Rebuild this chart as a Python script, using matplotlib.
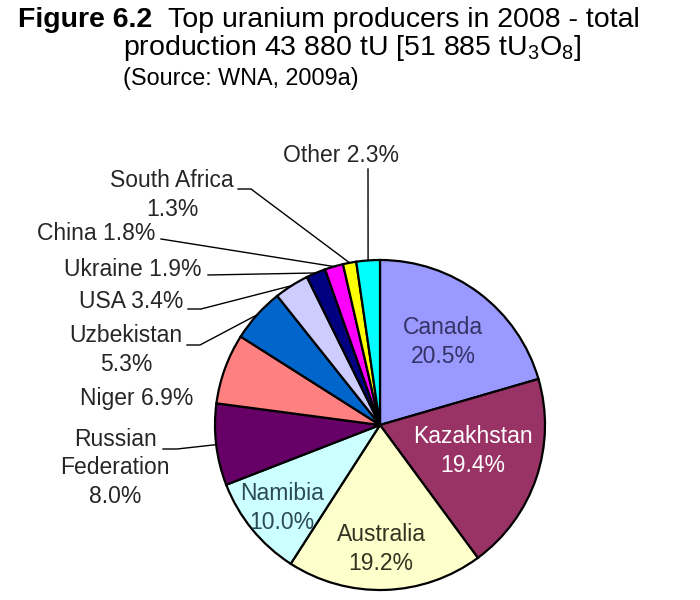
import numpy as np
import matplotlib.pyplot as plt

plt.rcParams['font.family'] = ['Liberation Sans', 'DejaVu Sans']
plt.rcParams['mathtext.fontset'] = 'custom'
plt.rcParams['mathtext.rm'] = 'Liberation Sans'
plt.rcParams['mathtext.it'] = 'Liberation Sans:italic'

# data (clockwise from 12 o'clock)
countries = ['Canada', 'Kazakhstan', 'Australia', 'Namibia', 'Russian Federation',
             'Niger', 'Uzbekistan', 'USA', 'Ukraine', 'China', 'South Africa', 'Other']
shares = [20.5, 19.4, 19.2, 10.0, 8.0, 6.9, 5.3, 3.4, 1.9, 1.8, 1.3, 2.3]
colors = ['#9999ff', '#993366', '#ffffcc', '#ccffff', '#660066', '#ff8080',
          '#0066cc', '#ccccff', '#000080', '#ff00ff', '#ffff00', '#00ffff']

H = 600  # figure height in px, used to flip y


def Y(py):
    return H - py


fig = plt.figure(figsize=(7, 6), dpi=100)
ax = fig.add_axes([0, 0, 1, 1])

cx, cy, r = 380, Y(425), 165
wedges, _ = ax.pie(shares, colors=colors, startangle=90, counterclock=False,
                   center=(cx, cy), radius=r,
                   wedgeprops=dict(edgecolor='black', linewidth=1.6))
ax.set_xlim(0, 700)
ax.set_ylim(0, 600)
ax.set_aspect('equal')
ax.axis('off')

fs = 16.5
ls = 1.32
txt = '#262626'

# labels inside the pie: (x, y, colour)
inside = {
    'Canada': (443, 342, '#333366'),
    'Kazakhstan': (473, 451, 'white'),
    'Australia': (381, 549, '#333322'),
    'Namibia': (282, 508, '#2b4a52'),
}

# labels outside: (x, y, name format, leader line points before the slice)
outside = {
    'Other': (341, 155, '{} {:.1f}%', [(368, 169)]),
    'South Africa': (172, 195, '{}\n{:.1f}%', [(238, 189), (251, 189)]),
    'China': (96, 234, '{} {:.1f}%', [(161, 239)]),
    'Ukraine': (133, 270, '{} {:.1f}%', [(208, 275)]),
    'USA': (131, 302, '{} {:.1f}%', [(188, 309), (201, 309)]),
    'Uzbekistan': (126, 350, '{}\n{:.1f}%', [(187, 345), (200, 345)]),
    'Niger': (137, 398, '{} {:.1f}%', None),
    'Russian Federation': (115, 468, '{}\n{:.1f}%', [(163, 449), (177, 449)]),
}

for w, name, val in zip(wedges, countries, shares):
    mid = np.deg2rad((w.theta1 + w.theta2) / 2)
    ex, ey = cx + r * np.cos(mid), cy + r * np.sin(mid)
    if name in inside:
        x, y, c = inside[name]
        ax.text(x, Y(y), f'{name}\n{val:.1f}%', ha='center', va='center',
                fontsize=fs, color=c, linespacing=ls)
    else:
        x, y, fmt, pts = outside[name]
        label = fmt.format(name.replace('Russian ', 'Russian\n'), val)
        ax.text(x, Y(y), label, ha='center', va='center', fontsize=fs,
                color=txt, linespacing=ls)
        if pts:
            xs = [p[0] for p in pts] + [ex]
            ys = [Y(p[1]) for p in pts] + [ey]
            ax.plot(xs, ys, color='black', lw=1.0)

# title block
fig.text(18 / 700, 1 - 27 / 600, 'Figure 6.2', fontsize=20.5, fontweight='bold',
         va='baseline', ha='left')
fig.text(168 / 700, 1 - 27 / 600, 'Top uranium producers in 2008 - total',
         fontsize=20.5, va='baseline', ha='left')
fig.text(123 / 700, 1 - 55 / 600, r'production 43 880 tU [51 885 tU$_3$O$_8$]',
         fontsize=20.5, va='baseline', ha='left')
fig.text(123 / 700, 1 - 85 / 600, '(Source: WNA, 2009a)', fontsize=16.8,
         va='baseline', ha='left')

fig.savefig('out.png', dpi=100)
